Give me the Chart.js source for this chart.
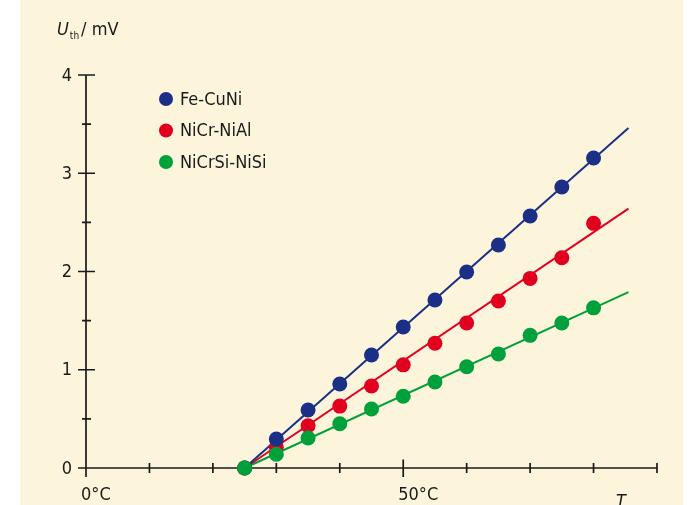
<!DOCTYPE html>
<html>
<head>
<meta charset="utf-8">
<script src="https://cdn.jsdelivr.net/npm/chart.js@4.4.1/dist/chart.umd.min.js"></script>
<style>
  html, body { margin: 0; padding: 0; background: #ffffff; }
  canvas { display: block; }
</style>
</head>
<body>
<canvas id="chart" width="691" height="505"></canvas>
<script>
// measured points (temperature in °C, thermo voltage in mV)
const temps = [25, 30, 35, 40, 45, 50, 55, 60, 65, 70, 75, 80];
const feCuNi = [0, 0.295, 0.59, 0.855, 1.15, 1.435, 1.71, 1.995, 2.27, 2.565, 2.86, 3.155];
const niCrNiAl = [0, 0.21, 0.43, 0.63, 0.835, 1.05, 1.27, 1.476, 1.70, 1.93, 2.14, 2.49];
const niCrSiNiSi = [0, 0.14, 0.305, 0.45, 0.60, 0.73, 0.875, 1.03, 1.16, 1.35, 1.476, 1.63];

// fitted straight lines
const fitT = [25, 85.5];
const fitFe = [0, 3.46];
const fitNiCr = [0, 2.64];
const fitNiCrSi = [0, 1.79];

const seriesNames = ['Fe-CuNi', 'NiCr-NiAl', 'NiCrSi-NiSi'];
const seriesColors = ['#1b2f87', '#e2001f', '#00a03a'];

const xMajorTicks = [0, 50];
const xTickLabels = ['0°C', '50°C'];
const xMinorTicks = [10, 20, 30, 40, 60, 70, 80, 90];
const yMajorTicks = [0, 1, 2, 3, 4];
const yMinorTicks = [0.5, 1.5, 2.5, 3.5];

const FONT = "'Liberation Sans Narrow', 'DejaVu Sans Condensed', 'Open Sans', sans-serif";
const INK = '#1a1a1a';

const pts = (xs, ys) => xs.map((x, i) => ({ x: x, y: ys[i] }));

function pointSet(i, ys, order) {
    return {
        label: seriesNames[i],
        data: pts(temps, ys),
        showLine: false,
        pointRadius: 7.5,
        pointHoverRadius: 7.5,
        pointBorderWidth: 0,
        pointBackgroundColor: seriesColors[i],
        borderColor: seriesColors[i],
        clip: false,
        order: order
    };
}

function lineSet(i, ys) {
    return {
        label: '',
        data: pts(fitT, ys),
        showLine: true,
        borderColor: seriesColors[i],
        borderWidth: 2,
        pointRadius: 0,
        clip: false,
        order: 5
    };
}

const axesPlugin = {
    id: 'axes',
    beforeDraw(chart) {
        const ctx = chart.ctx;
        ctx.save();
        ctx.fillStyle = '#fdf4dc';
        ctx.fillRect(20, 0, 663, chart.height);
        ctx.restore();
    },
    beforeDatasetsDraw(chart) {
        const ctx = chart.ctx;
        const xs = chart.scales.x, ys = chart.scales.y;
        const x0 = xs.getPixelForValue(0), y0 = ys.getPixelForValue(0);
        ctx.save();
        ctx.strokeStyle = INK;
        ctx.lineWidth = 1.7;
        ctx.beginPath();
        ctx.moveTo(x0, ys.getPixelForValue(4));
        ctx.lineTo(x0, y0);
        ctx.moveTo(x0, y0);
        ctx.lineTo(xs.getPixelForValue(90), y0);
        xMajorTicks.forEach(v => { const p = xs.getPixelForValue(v); ctx.moveTo(p, y0 - 8.5); ctx.lineTo(p, y0 + 9); });
        xMinorTicks.forEach(v => { const p = xs.getPixelForValue(v); ctx.moveTo(p, y0 - 5); ctx.lineTo(p, y0 + 5); });
        yMajorTicks.forEach(v => { const p = ys.getPixelForValue(v); ctx.moveTo(x0 - 8, p); ctx.lineTo(x0 + 9, p); });
        yMinorTicks.forEach(v => { const p = ys.getPixelForValue(v); ctx.moveTo(x0 - 4, p); ctx.lineTo(x0 + 5, p); });
        ctx.stroke();

        ctx.fillStyle = INK;
        ctx.font = '18px ' + FONT;
        ctx.textAlign = 'right';
        ctx.textBaseline = 'middle';
        yMajorTicks.forEach(v => ctx.fillText(String(v), x0 - 14, ys.getPixelForValue(v) + 1));

        ctx.textAlign = 'left';
        ctx.textBaseline = 'alphabetic';
        xMajorTicks.forEach((v, i) => ctx.fillText(xTickLabels[i], xs.getPixelForValue(v) - 5, 500));

        // axis titles
        ctx.font = 'italic 18px ' + FONT;
        ctx.fillText('U', 57, 35);
        let w = ctx.measureText('U').width;
        ctx.font = '10px ' + FONT;
        ctx.fillText('th', 57 + w + 1, 39);
        let w2 = ctx.measureText('th').width;
        ctx.font = '18px ' + FONT;
        ctx.fillText('/ mV', 57 + w + w2 + 3, 35);

        ctx.font = 'italic 18px ' + FONT;
        ctx.fillText('T', 616, 507);
        ctx.restore();
    },
    afterDraw(chart) {
        const ctx = chart.ctx;
        ctx.save();
        ctx.font = '18px ' + FONT;
        ctx.textAlign = 'left';
        ctx.textBaseline = 'middle';
        seriesNames.forEach((name, i) => {
            const cy = 99 + i * 31.5;
            ctx.fillStyle = seriesColors[i];
            ctx.beginPath();
            ctx.arc(166, cy, 7, 0, Math.PI * 2);
            ctx.fill();
            ctx.fillStyle = INK;
            ctx.fillText(name, 180, cy + 1);
        });
        ctx.restore();
    }
};

new Chart(document.getElementById('chart'), {
    type: 'scatter',
    data: {
        datasets: [
            pointSet(2, niCrSiNiSi, 0),
            pointSet(0, feCuNi, 1),
            pointSet(1, niCrNiAl, 2),
            lineSet(0, fitFe),
            lineSet(1, fitNiCr),
            lineSet(2, fitNiCrSi)
        ]
    },
    options: {
        responsive: false,
        animation: false,
        layout: { padding: { left: 86, right: 34, top: 75, bottom: 37 } },
        scales: {
            x: { type: 'linear', min: 0, max: 90, display: false },
            y: { type: 'linear', min: 0, max: 4, display: false }
        },
        plugins: {
            legend: { display: false },
            tooltip: { enabled: false }
        }
    },
    plugins: [axesPlugin]
});
</script>
</body>
</html>
